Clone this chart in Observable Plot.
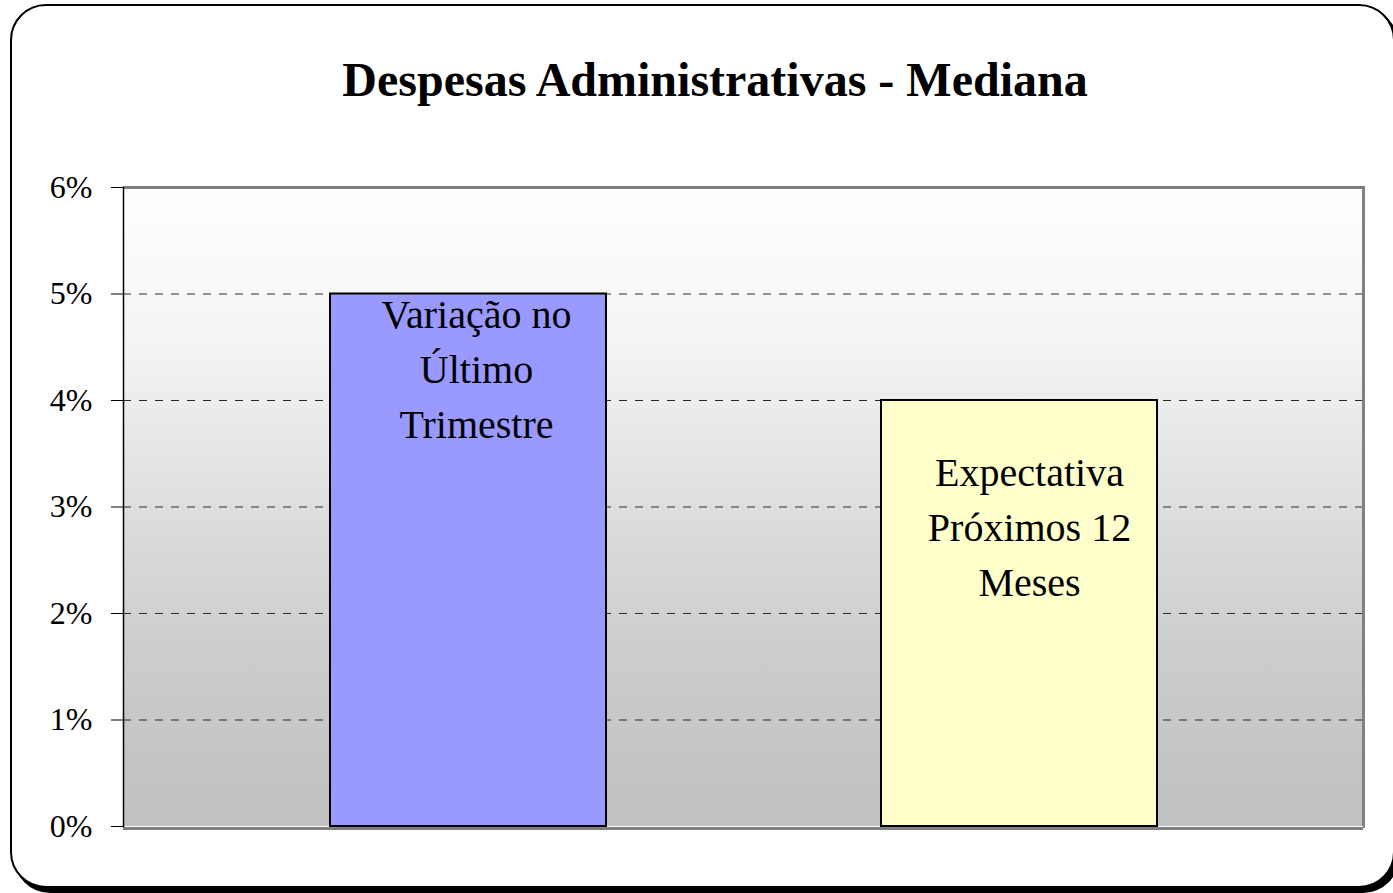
<!DOCTYPE html>
<html>
<head>
<meta charset="utf-8">
<script src="https://cdn.jsdelivr.net/npm/d3@7"></script>
<script src="https://cdn.jsdelivr.net/npm/@observablehq/plot@0.6"></script>
<style>
  html, body { margin: 0; padding: 0; background: #ffffff; overflow: hidden; }
  #wrap { position: relative; width: 1393px; height: 893px; overflow: hidden; }
  #box { position: absolute; left: 10px; top: 4px; width: 1381px; height: 880px; border: 2px solid #000; border-radius: 36px; box-shadow: 4px 5px 0 #000; background: #fff; }
  #title { position: absolute; left: 0; top: 56px; width: 1430px; text-align: center; font-family: "Liberation Serif", "Times New Roman", serif; font-weight: bold; font-size: 48px; line-height: 48px; color: #000; }
  #chart { position: absolute; left: 0; top: 0; }
</style>
</head>
<body>
<div id="wrap">
  <div id="box"></div>
  <div id="title">Despesas Administrativas - Mediana</div>
  <div id="chart"></div>
</div>
<script>
const categories = ["Variação no Último Trimestre", "Expectativa Próximos 12 Meses"];
const barLabels = ["Variação no\nÚltimo\nTrimestre", "Expectativa\nPróximos 12\nMeses"];
const values = [0.05, 0.04];
const yTicks = [0, 0.01, 0.02, 0.03, 0.04, 0.05, 0.06];
const yTickLabels = ["0%", "1%", "2%", "3%", "4%", "5%", "6%"];
const gridValues = [0.01, 0.02, 0.03, 0.04, 0.05];

const table = categories.map((c, i) => ({category: c, label: barLabels[i], value: values[i]}));

const gradientDefs = () => {
  const ns = "http://www.w3.org/2000/svg";
  const defs = document.createElementNS(ns, "defs");
  const lg = document.createElementNS(ns, "linearGradient");
  lg.setAttribute("id", "bg");
  lg.setAttribute("x1", "0"); lg.setAttribute("y1", "0");
  lg.setAttribute("x2", "0"); lg.setAttribute("y2", "1");
  [[0, "#ffffff"], [0.26, "#f3f3f3"], [0.5, "#dedede"], [0.72, "#cdcdcd"], [0.9, "#c4c4c4"], [1, "#c1c1c1"]].forEach(([o, c]) => {
    const s = document.createElementNS(ns, "stop");
    s.setAttribute("offset", o);
    s.setAttribute("stop-color", c);
    lg.appendChild(s);
  });
  defs.appendChild(lg);
  return defs;
};

const font = "Liberation Serif, Times New Roman, serif";

const chart = Plot.plot({
  width: 1393,
  height: 893,
  marginLeft: 123,
  marginRight: 30,
  marginTop: 187,
  marginBottom: 67,
  style: {fontFamily: font, background: "transparent", color: "#000"},
  x: {domain: categories, paddingInner: 0.5, paddingOuter: 0.375, axis: null},
  y: {domain: [0, 0.06]},
  color: {domain: categories, range: ["#9999ff", "#ffffcc"]},
  marks: [
    gradientDefs,
    Plot.frame({fill: "url(#bg)", stroke: "none"}),
    Plot.ruleY(gridValues, {stroke: "#2a2a2a", strokeWidth: 1, strokeDasharray: "8,8"}),
    Plot.ruleY([0.06], {stroke: "#808080", strokeWidth: 3}),
    Plot.frame({anchor: "right", stroke: "#808080", strokeWidth: 3}),
    Plot.ruleY([0], {stroke: "#808080", strokeWidth: 3, dy: 2}),
    Plot.ruleY([0], {stroke: "#ffffff", strokeWidth: 1}),
    Plot.barY(table, {x: "category", y: "value", fill: "category", stroke: "#000", strokeWidth: 2}),
    Plot.text(table.slice(0, 1), {x: "category", y: "value", text: "label", lineAnchor: "top", lineHeight: 1.375, fontSize: 40, dx: 8, dy: -5, fill: "#000"}),
    Plot.text(table.slice(1, 2), {x: "category", y: "value", text: "label", lineAnchor: "top", lineHeight: 1.375, fontSize: 40, dx: 10, dy: 46, fill: "#000"}),
    Plot.frame({anchor: "left", stroke: "#000", strokeWidth: 1.5}),
    Plot.axisY({ticks: yTicks, tickFormat: (d) => yTickLabels[yTicks.indexOf(d)], tickSize: 12, tickPadding: 19, fontSize: 32, label: null, stroke: "#000"})
  ]
});
document.getElementById("chart").appendChild(chart);
</script>
</body>
</html>
